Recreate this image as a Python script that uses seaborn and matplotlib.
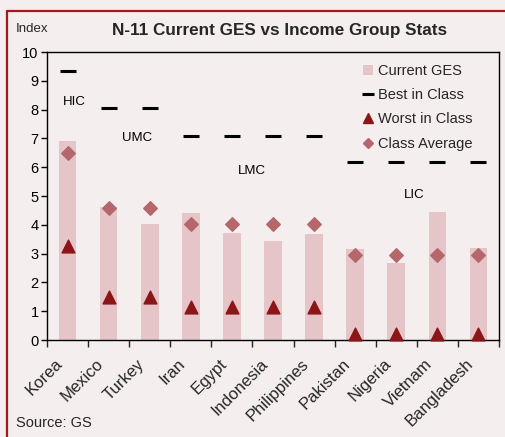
import numpy as np
import pandas as pd
import matplotlib
matplotlib.use("Agg")
import matplotlib.pyplot as plt
from matplotlib.lines import Line2D
from matplotlib.patches import Patch
import seaborn as sns

countries = ["Korea", "Mexico", "Turkey", "Iran", "Egypt", "Indonesia",
             "Philippines", "Pakistan", "Nigeria", "Vietnam", "Bangladesh"]
current_ges = [6.9, 4.63, 4.03, 4.42, 3.72, 3.44, 3.68, 3.16, 2.67, 4.46, 3.19]
best_in_class = [9.35, 8.04, 8.04, 7.09, 7.09, 7.09, 7.09, 6.19, 6.19, 6.19, 6.19]
worst_in_class = [3.26, 1.5, 1.5, 1.15, 1.15, 1.15, 1.15, 0.22, 0.22, 0.22, 0.22]
class_average = [6.5, 4.6, 4.6, 4.03, 4.03, 4.03, 4.03, 2.94, 2.94, 2.94, 2.94]
group_labels = ["HIC", "UMC", "LMC", "LIC"]
group_label_pos = [(0.16, 8.25), (1.7, 7.02), (4.48, 5.87), (8.43, 5.05)]

BG = "#F4EEEE"
BAR = "#E6C5C9"
DIAM = "#B5676B"
TRI = "#8C1518"
BORDER = "#9E1B22"

sns.set_style("white")
plt.rcParams["font.family"] = ["Liberation Sans", "DejaVu Sans"]

df = pd.DataFrame({"country": countries, "ges": current_ges})

fig = plt.figure(figsize=(5.05, 4.37), dpi=100, facecolor=BG)
ax = fig.add_axes([47 / 505, 97 / 437, 452 / 505, 288 / 437])
ax.set_facecolor(BG)

sns.barplot(data=df, x="country", y="ges", color=BAR, width=0.43,
            saturation=1, ax=ax, edgecolor="none")

x = np.arange(len(countries))
ax.scatter(x, best_in_class, marker="_", s=130, linewidths=2.2,
           color="black", zorder=3)
ax.scatter(x, worst_in_class, marker="^", s=85, color=TRI,
           zorder=4, clip_on=False)
ax.scatter(x, class_average, marker="D", s=48, color=DIAM, zorder=4)

for lab, (gx, gy) in zip(group_labels, group_label_pos):
    ax.text(gx, gy, lab, fontsize=9.5, ha="center", va="center", color="black")

ax.set_xlim(-0.5, len(countries) - 0.5)
ax.set_ylim(0, 10)
ax.set_yticks(np.arange(0, 11, 1))
ax.tick_params(axis="y", labelsize=10.5, length=4, width=1, direction="out",
               left=True, pad=2, colors="black")
ax.set_xticks(np.arange(len(countries) + 1) - 0.5)
ax.set_xticklabels([])
ax.tick_params(axis="x", which="major", length=5, width=1, direction="out",
               bottom=True)
for i, name in enumerate(countries):
    ax.annotate(name, xy=(i, 0), xycoords=("data", "axes fraction"),
                xytext=(-5.5, -15.5), textcoords="offset points",
                rotation=45, ha="right", va="center",
                rotation_mode="anchor", fontsize=12, annotation_clip=False)
ax.set_xlabel("")
ax.set_ylabel("")
for s in ax.spines.values():
    s.set_visible(True)
    s.set_color("black")
    s.set_linewidth(1)

handles = [
    Patch(facecolor=BAR, edgecolor="none", label="Current GES"),
    Line2D([], [], marker="_", linestyle="none", color="black",
           markersize=8, markeredgewidth=2.2, label="Best in Class"),
    Line2D([], [], marker="^", linestyle="none", color=TRI,
           markersize=7, label="Worst in Class"),
    Line2D([], [], marker="D", linestyle="none", color=DIAM,
           markersize=5.5, label="Class Average"),
]
leg = ax.legend(handles=handles, loc="upper left",
                bbox_to_anchor=(316 / 452, 1 - 12 / 288), frameon=False,
                fontsize=10.5, handlelength=0.7, handleheight=0.7,
                handletextpad=0.35, labelspacing=0.7, borderaxespad=0,
                borderpad=0)

fig.text(48 / 505, 1 - 29 / 437, "Index", fontsize=9.5, ha="right", va="center")
fig.text(280 / 505, 1 - 31 / 437, "N-11 Current GES vs Income Group Stats",
         fontsize=12.3, fontweight="bold", ha="center", va="center")
fig.text(16 / 505, 1 - 423 / 437, "Source: GS", fontsize=10.5, ha="left",
         va="center")

fig.add_artist(Line2D([7 / 505, 7 / 505], [0, 1 - 11 / 437], color=BORDER,
                      linewidth=1.6, transform=fig.transFigure))
fig.add_artist(Line2D([7 / 505, 1], [1 - 11 / 437, 1 - 11 / 437], color=BORDER,
                      linewidth=1.6, transform=fig.transFigure))

fig.savefig("out.png", dpi=100, facecolor=BG)
